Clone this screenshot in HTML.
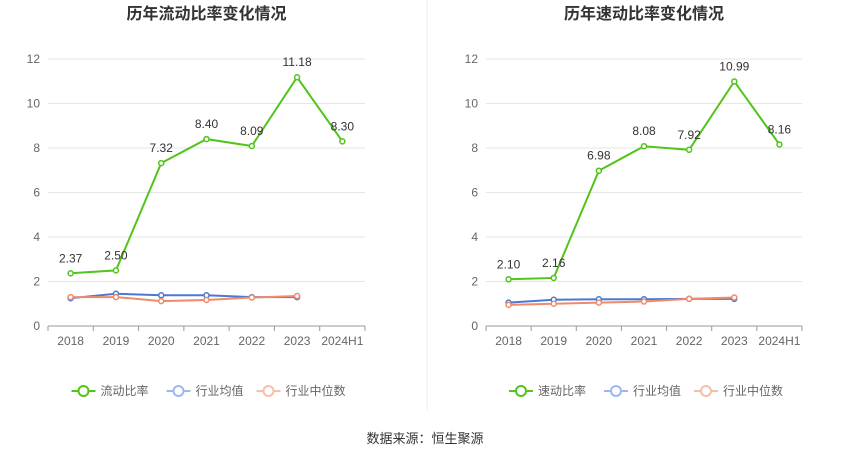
<!DOCTYPE html>
<html><head><meta charset="utf-8"><style>
body{margin:0;background:#fff;font-family:"Liberation Sans","Noto Sans CJK SC",sans-serif;}
svg text{font-family:"Liberation Sans","Noto Sans CJK SC",sans-serif;}
</style></head><body>
<svg id="svg" width="850" height="459">
<line x1="427" y1="0" x2="427" y2="410" stroke="#eee"/>
<text x="425" y="443" text-anchor="middle" font-size="13" fill="#333">数据来源：恒生聚源</text>
</svg>
<script>
const categories=["2018","2019","2020","2021","2022","2023","2024H1"];
const yTicks=[0,2,4,6,8,10,12];
const leftMain=[2.37,2.50,7.32,8.40,8.09,11.18,8.30];
const leftAvg=[1.25,1.45,1.38,1.38,1.30,1.30];
const leftMed=[1.30,1.30,1.12,1.17,1.28,1.35];
const rightMain=[2.10,2.16,6.98,8.08,7.92,10.99,8.16];
const rightAvg=[1.05,1.18,1.20,1.20,1.22,1.22];
const rightMed=[0.95,1.00,1.05,1.10,1.22,1.28];
const svg=document.getElementById('svg');
const NS='http://www.w3.org/2000/svg';
function mk(tag,attrs,parent){const e=document.createElementNS(NS,tag);for(const k in attrs)e.setAttribute(k,attrs[k]);(parent||svg).appendChild(e);return e;}
function chart(x0,x1,title,main,avg,med,mainName,prefix){
  const g=mk('g',{});
  
  
  const yT=59,yB=326,maxV=12;
  const ys=v=>yB-(v/maxV)*(yB-yT);
  const step=(x1-x0)/categories.length;
  const xs=i=>x0+step*(i+0.5);
  const t=mk('text',{x:(x0+x1)/2,y:19,'text-anchor':'middle','font-size':16,'font-weight':'bold',fill:'#333'},g);t.textContent=title;
  
  
  yTicks.forEach(v=>{
    const l=mk('line',{x1:x0,x2:x1,y1:ys(v),y2:ys(v),stroke:v===0?'#999':'#e6e6e6'},g);
    
    
    const tx=mk('text',{x:x0-8,y:ys(v)+4,'text-anchor':'end','font-size':12,fill:'#666'},g);tx.textContent=v;
    
    
  });
  categories.forEach((c,i)=>{
    mk('line',{x1:x0+step*i,x2:x0+step*i,y1:yB,y2:yB+5,stroke:'#999'},g);
    const tx=mk('text',{x:xs(i),y:yB+19,'text-anchor':'middle','font-size':12,fill:'#666'},g);tx.textContent=c;
    
    
  });
  mk('line',{x1:x1,x2:x1,y1:yB,y2:yB+5,stroke:'#999'},g);
  function series(vals,color,name,labels){
    const p=mk('polyline',{points:vals.map((v,i)=>xs(i)+','+ys(v)).join(' '),fill:'none',stroke:color,'stroke-width':2},g);
    
    
    vals.forEach((v,i)=>{
      const c=mk('circle',{cx:xs(i),cy:ys(v),r:2.5,fill:'#fff',stroke:color,'stroke-width':1.5},g);
      
      
      if(labels){const tx=mk('text',{x:xs(i),y:ys(v)-11,'text-anchor':'middle','font-size':12,fill:'#333'},g);tx.textContent=v.toFixed(2);
        
        }
    });
  }
  series(avg,'#4a78d6',prefix+'-industry-avg',false);
  series(med,'#f08a6a',prefix+'-industry-median',false);
  series(main,'#52c41a',prefix+'-main',true);
  const leg=[[mainName,'#52c41a'],['行业均值','#9db8ef'],['行业中位数','#f6bfa8']];
  let lx=(x0+x1)/2-135;
  const widths=[95,90,100];
  leg.forEach((L,i)=>{
    const lg=mk('g',{},g);
    
    
    mk('line',{x1:lx,x2:lx+24,y1:391,y2:391,stroke:L[1],'stroke-width':2},lg);
    mk('circle',{cx:lx+12,cy:391,r:5,fill:'#fff',stroke:L[1],'stroke-width':2},lg);
    const tx=mk('text',{x:lx+29,y:395,'font-size':12,fill:'#666'},lg);tx.textContent=L[0];
    lx+=widths[i];
  });
}
chart(48,365,'历年流动比率变化情况',leftMain,leftAvg,leftMed,'流动比率','left');
chart(486,802,'历年速动比率变化情况',rightMain,rightAvg,rightMed,'速动比率','right');
</script>
</body></html>
